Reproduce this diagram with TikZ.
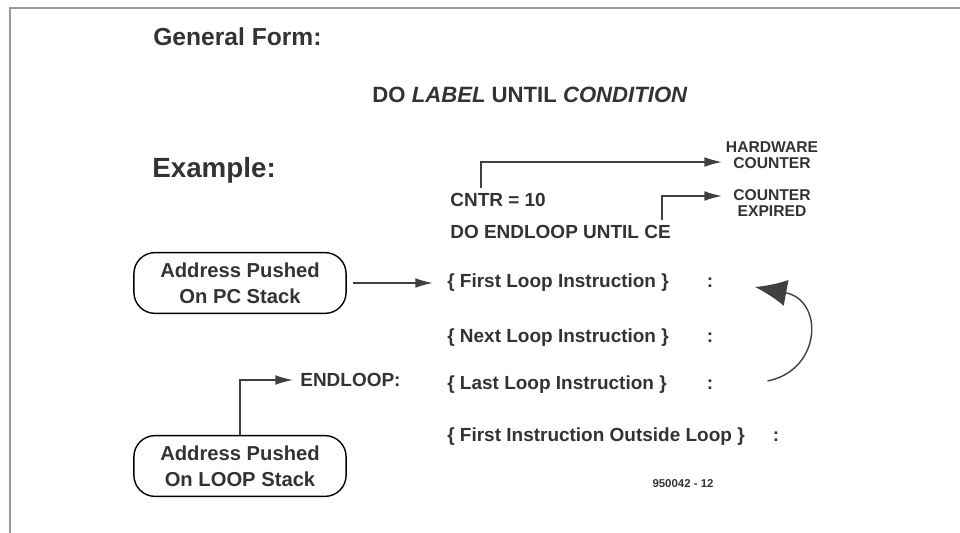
\documentclass[tikz,border=0pt]{standalone}
\usepackage{fontspec}
\setmainfont{Liberation Sans}
\usetikzlibrary{arrows.meta}
\tikzset{
  txt/.style={inner sep=0pt, font=\bfseries\fontsize{10.8}{13}\selectfont, text=black!80},
  stackbox/.style={draw, thick, rounded corners=12pt, minimum width=213pt*0.567, minimum height=61pt*0.567,
    align=center, font=\bfseries\fontsize{11.5}{15}\selectfont, text=black!80},
  small/.style={inner sep=0pt, align=center, font=\bfseries\fontsize{8.9}{9}\selectfont, text=black!80},
  pointer/.style={-{Latex[length=10pt,width=5.5pt]}, thick, black!75},
}
\begin{document}
\begin{tikzpicture}[x=0.02cm, y=-0.02cm]
  \useasboundingbox (0,0) rectangle (960,533);
  % frame
  \draw[thick, black!40] (960,8) -- (10,8) -- (10,533);
  % headings
  \draw
    (153,37) node[txt, anchor=west, font=\bfseries\fontsize{14}{16}\selectfont] (general){General Form:}
    (530,95) node[txt, font=\bfseries\fontsize{12.6}{14}\selectfont] (form){DO \textit{LABEL} UNTIL \textit{CONDITION}}
    (152,170) node[txt, anchor=west, font=\bfseries\fontsize{15.8}{17}\selectfont] (example){Example:};
  % program text
  \draw
    (450,200) node[txt, anchor=west] (cntr){CNTR = 10}
    (450,232) node[txt, anchor=west] (doloop){DO ENDLOOP UNTIL CE}
    (447,283) node[txt, anchor=west] (first){\{ First Loop Instruction \}}
    (447,338) node[txt, anchor=west] (next){\{ Next Loop Instruction \}}
    (447,385) node[txt, anchor=west] (last){\{ Last Loop Instruction \}}
    (447,437) node[txt, anchor=west] (outside){\{ First Instruction Outside Loop \}}
    (710,283) node[txt] (c1){:}
    (710,338) node[txt] (c2){:}
    (710,385) node[txt] (c3){:}
    (776,437) node[txt] (c4){:}
    (300,380) node[txt, anchor=west] (endloop){ENDLOOP:}
    (683,484) node[txt, font=\bfseries\fontsize{6.5}{7}\selectfont] (fig){950042 - 12};
  % side notes
  \draw
    (772,155) node[small] (hw){HARDWARE\\COUNTER}
    (772,203) node[small] (ce){COUNTER\\EXPIRED};
  % stack boxes
  \draw
    (240,283) node[stackbox] (pcbox){Address Pushed\\On PC Stack}
    (240,466) node[stackbox] (loopbox){Address Pushed\\On LOOP Stack};
  \coordinate (hwin) at (722,162);
  \coordinate (cein) at (722,196);
  \coordinate (back) at (755,287);
  \begin{scope}[pointer]
    \draw (cntr.north -| 481,0) ++(0,-5) |- (hwin);
    \draw (doloop.north -| 662,0) ++(0,-5) |- (cein);
    \draw (pcbox.east) ++(6,0) -- ([xshift=-8pt]first.west);
    \draw (loopbox.north) |- ([xshift=-4pt]endloop.west);
    \draw[-{Latex[length=18pt,width=15pt]}] ([xshift=8pt]c3.east) ++(40,-4)
      .. controls (822,370) and (824,300) .. (back);
  \end{scope}
\end{tikzpicture}
\end{document}
